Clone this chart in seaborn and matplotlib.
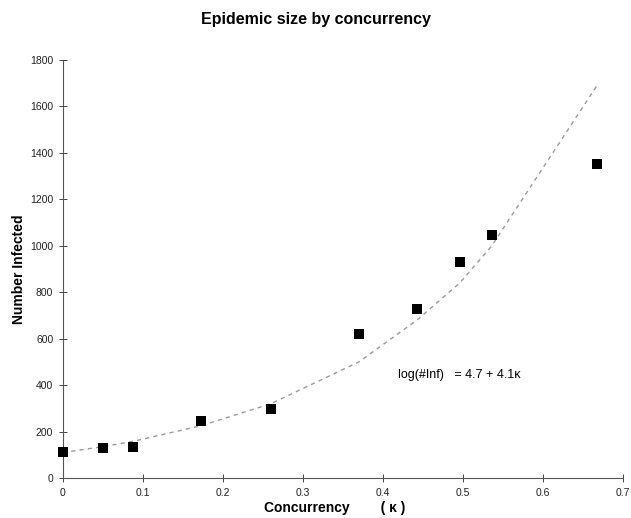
import matplotlib
matplotlib.use("Agg")
import matplotlib.pyplot as plt
import pandas as pd
import seaborn as sns

# observed epidemic sizes by concurrency (kappa)
kappa = [0.0, 0.05, 0.0875, 0.1725, 0.26, 0.37, 0.4425, 0.496, 0.536, 0.6675]
infected = [112, 129, 135, 245, 297, 620, 728, 930, 1046, 1352]
# fitted curve log(#Inf) = 4.7 + 4.1 kappa
fitted = [110, 135, 158, 225, 320, 500, 680, 840, 1000, 1690]

df = pd.DataFrame({"kappa": kappa, "infected": infected, "fitted": fitted})

sns.set_style("white")
plt.rcParams["font.family"] = ["Liberation Sans", "DejaVu Sans"]
plt.rcParams["text.color"] = "black"
plt.rcParams["axes.labelcolor"] = "black"

fig = plt.figure(figsize=(6.31, 5.18), dpi=100)
ax = fig.add_axes([0.0998, 0.0772, 0.8875, 0.8070])

# dashed fit line
sns.lineplot(data=df, x="kappa", y="fitted", ax=ax, color="#9a9a9a",
             linestyle=(0, (3, 3)), linewidth=1.0)

# observed points
sns.scatterplot(data=df, x="kappa", y="infected", ax=ax, marker="s",
                s=58, color="black", edgecolor="black", linewidth=0,
                zorder=3, clip_on=False)

ax.set_xlim(0, 0.7)
ax.set_ylim(0, 1800)
ax.set_xticks([0, 0.1, 0.2, 0.3, 0.4, 0.5, 0.6, 0.7])
ax.set_xticklabels(["0", "0.1", "0.2", "0.3", "0.4", "0.5", "0.6", "0.7"])
ax.set_yticks(range(0, 1801, 200))

sns.despine(ax=ax)
for side in ["left", "bottom"]:
    ax.spines[side].set_color("#555555")
    ax.spines[side].set_linewidth(0.8)
ax.tick_params(bottom=True, left=True, direction="inout", length=6,
               width=0.7, color="#444444", labelcolor="#222222",
               labelsize=7.5)
ax.tick_params(axis="x", pad=4)
ax.tick_params(axis="y", pad=4)

ax.set_xlabel("Concurrency        ( \u03ba )", fontsize=10, fontweight="bold")
ax.xaxis.set_label_coords(0.486, -0.054)
ax.set_ylabel("Number Infected", fontsize=10, fontweight="bold")
ax.yaxis.set_label_coords(-0.066, 0.5)
fig.suptitle("Epidemic size by concurrency", fontsize=11.5, fontweight="bold",
             y=0.977)

ax.text(0.419, 444, "log(#Inf)   = 4.7 + 4.1\u03ba", fontsize=9,
        va="center", ha="left")

plt.savefig("out.png", dpi=100)
